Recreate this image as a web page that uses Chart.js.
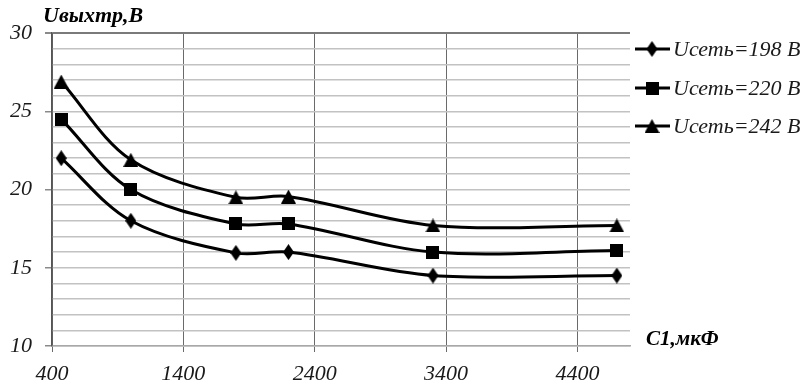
<!DOCTYPE html>
<html>
<head>
<meta charset="utf-8">
<script src="https://cdn.jsdelivr.net/npm/chart.js@4.4.0/dist/chart.umd.min.js"></script>
<style>
  html, body { margin: 0; padding: 0; background: #fff; }
  #wrap { width: 811px; height: 388px; }
</style>
</head>
<body>
<div id="wrap"><canvas id="chart"></canvas></div>
<script>
// --- data ---
const capacitance = [470, 1000, 1800, 2200, 3300, 4700];
const u198 = [22.0, 18.0, 15.95, 16.0, 14.5, 14.5];
const u220 = [24.5, 20.0, 17.8, 17.8, 16.0, 16.1];
const u242 = [26.9, 21.9, 19.5, 19.55, 17.7, 17.7];
const seriesLabels = ['Uсеть=198 В', 'Uсеть=220 В', 'Uсеть=242 В'];
const xTicks = [400, 1400, 2400, 3400, 4400];
const yLabels = [10, 15, 20, 25, 30];

const SERIF = "'Liberation Serif', 'DejaVu Serif', serif";

// marker images (Excel-like: narrow diamond, square, triangle)
function makeMarker(shape) {
  const c = document.createElement('canvas');
  const g = c.getContext('2d');
  if (shape === 'diamond') {
    c.width = 11; c.height = 16;
    g.fillStyle = '#000';
    g.beginPath();
    g.moveTo(5.5, 0); g.lineTo(11, 8); g.lineTo(5.5, 16); g.lineTo(0, 8);
    g.closePath(); g.fill();
  } else if (shape === 'square') {
    c.width = 13; c.height = 13;
    g.fillStyle = '#000';
    g.fillRect(0, 0, 13, 13);
  } else {
    c.width = 15; c.height = 14;
    g.fillStyle = '#000';
    g.beginPath();
    g.moveTo(7.5, 0); g.lineTo(15, 14); g.lineTo(0, 14);
    g.closePath(); g.fill();
  }
  return c;
}
const markers = [makeMarker('diamond'), makeMarker('square'), makeMarker('triangle')];

function series(i, values) {
  return {
    label: seriesLabels[i],
    data: capacitance.map((x, k) => ({ x, y: values[k] })),
    borderColor: '#000',
    backgroundColor: '#000',
    borderWidth: 3,
    tension: 0.33,
    pointStyle: markers[i],
    pointRadius: 7,
  };
}

// axis titles + legend with line-and-marker samples
const decorations = {
  id: 'decorations',
  afterDraw(chart) {
    const ctx = chart.ctx;
    ctx.save();
    ctx.fillStyle = '#000';
    ctx.font = `italic bold 22px ${SERIF}`;
    ctx.textBaseline = 'alphabetic';
    ctx.textAlign = 'left';
    ctx.fillText('Uвыхтр,В', 43, 22);
    ctx.font = `italic bold 21px ${SERIF}`;
    ctx.fillText('C1,мкФ', 646, 345);

    const rows = [49, 88, 126];
    ctx.font = `italic 22px ${SERIF}`;
    ctx.textBaseline = 'middle';
    rows.forEach((y, i) => {
      ctx.strokeStyle = '#000';
      ctx.lineWidth = 3;
      ctx.beginPath();
      ctx.moveTo(635, y);
      ctx.lineTo(670, y);
      ctx.stroke();
      const m = markers[i];
      ctx.drawImage(m, 652 - m.width / 2, y - m.height / 2);
      ctx.fillStyle = '#1a1a1a';
      ctx.fillText(seriesLabels[i], 673, y + 1);
    });
    ctx.restore();
  }
};

new Chart(document.getElementById('chart'), {
  type: 'line',
  data: {
    datasets: [series(0, u198), series(1, u220), series(2, u242)],
  },
  options: {
    responsive: true,
    maintainAspectRatio: false,
    animation: false,
    layout: { padding: { top: 33, right: 181, left: 0, bottom: 0 } },
    plugins: {
      legend: { display: false },
      tooltip: { enabled: false },
    },
    scales: {
      x: {
        type: 'linear',
        min: 400,
        max: 4800,
        afterBuildTicks: (axis) => { axis.ticks = xTicks.map(v => ({ value: v })); },
        afterFit: (axis) => { axis.height = 42; },
        border: { color: '#a8a8a8', width: 1.5 },
        grid: {
          color: '#6a6a6a',
          lineWidth: 1,
          tickLength: 6,
          tickColor: '#6a6a6a',
        },
        ticks: {
          color: '#1a1a1a',
          padding: 9,
          maxRotation: 0,
          font: { family: SERIF, size: 22, style: 'italic' },
          callback: (v) => String(v),
        },
      },
      y: {
        min: 10,
        max: 30,
        afterFit: (axis) => { axis.width = 52; },
        border: { color: '#555', width: 1.5 },
        grid: {
          color: (c) => c.tick.value === 30 ? '#7a7a7a' : '#c2c2c2',
          lineWidth: (c) => c.tick.value === 30 ? 2 : 1.5,
          tickLength: 7,
          tickColor: (c) => yLabels.includes(c.tick.value) ? '#8a8a8a' : 'rgba(0,0,0,0)',
        },
        ticks: {
          stepSize: 1,
          color: '#1a1a1a',
          padding: 13,
          autoSkip: false,
          font: { family: SERIF, size: 22, style: 'italic' },
          callback: (v) => yLabels.includes(v) ? String(v) : '',
        },
      },
    },
  },
  plugins: [decorations],
});
</script>
</body>
</html>
